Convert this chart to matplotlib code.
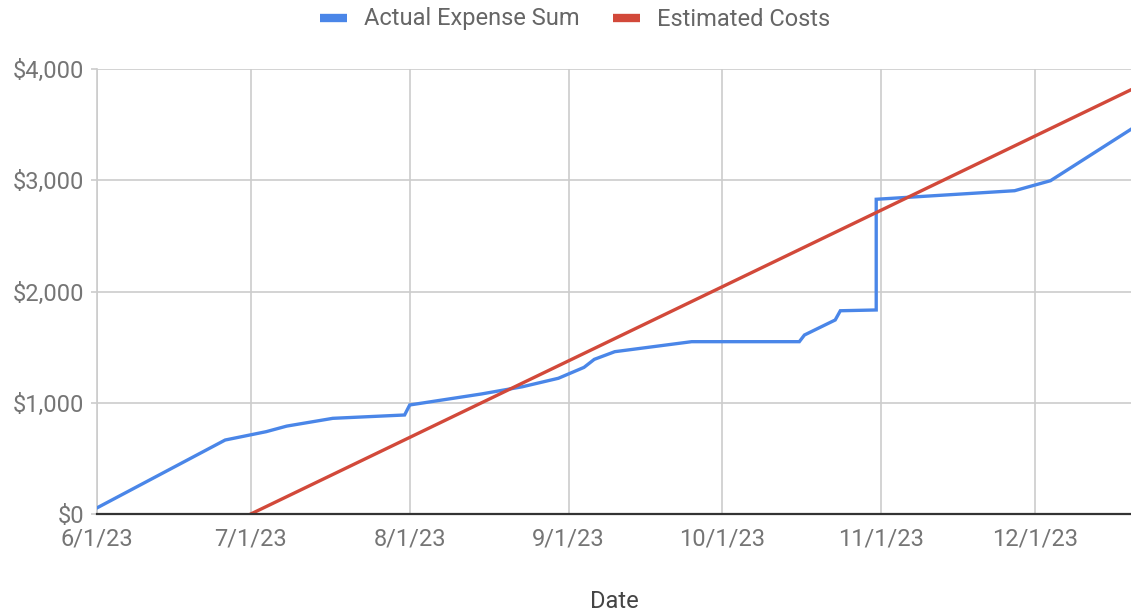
import matplotlib
matplotlib.use("Agg")
import matplotlib.pyplot as plt
import matplotlib.dates as mdates
from matplotlib.ticker import FuncFormatter, FixedLocator
import datetime as dt

plt.rcParams['font.family'] = ['Roboto', 'DejaVu Sans']

# ---- data ----
actual_dates = ["2023-06-01", "2023-06-26", "2023-07-04", "2023-07-08", "2023-07-17",
                "2023-07-31", "2023-08-01", "2023-08-15", "2023-08-23", "2023-08-30",
                "2023-09-04", "2023-09-06", "2023-09-10", "2023-09-25", "2023-10-16",
                "2023-10-17", "2023-10-23", "2023-10-24", "2023-10-31", "2023-10-31",
                "2023-11-27", "2023-12-04", "2023-12-20"]
actual_values = [55, 665, 740, 790, 860,
                 890, 980, 1079, 1144, 1220,
                 1318, 1390, 1459, 1549, 1549,
                 1609, 1744, 1827, 1834, 2829,
                 2906, 2996, 3467]
est_dates = ["2023-07-01", "2023-12-20"]
est_values = [0, 3820]
tick_dates = ["2023-06-01", "2023-07-01", "2023-08-01", "2023-09-01",
              "2023-10-01", "2023-11-01", "2023-12-01"]
y_ticks = [0, 1000, 2000, 3000, 4000]

def to_dt(s):
    return dt.datetime.strptime(s, "%Y-%m-%d")

ad = [to_dt(s) for s in actual_dates]
ed = [to_dt(s) for s in est_dates]
td = [mdates.date2num(to_dt(s)) for s in tick_dates]

FS = 17

fig = plt.figure(figsize=(11.31, 6.12), dpi=100)
ax = fig.add_axes([97/1131, 1 - 514/612, 1 - 97/1131, (514 - 69)/612])

blue = '#4a86e8'
red = '#d2493a'
ax.plot(ad, actual_values, color=blue, lw=2.4, label='Actual Expense Sum', zorder=3,
        solid_joinstyle='miter')
ax.plot(ed, est_values, color=red, lw=2.4, label='Estimated Costs', zorder=3)

ax.set_xlim(mdates.date2num(to_dt("2023-06-01")), mdates.date2num(to_dt("2023-06-01")) + 201.7)
ax.set_ylim(0, 4000)
ax.xaxis.set_major_locator(FixedLocator(td))
ax.xaxis.set_major_formatter(FuncFormatter(
    lambda v, p: (lambda d: f"{d.month}/{d.day}/{d:%y}")(mdates.num2date(v))))
ax.set_yticks(y_ticks)
ax.yaxis.set_major_formatter(FuncFormatter(lambda v, p: f"${int(v):,}"))

ax.grid(True, color='#cccccc', lw=1.2, zorder=0)
for s in ['top', 'right']:
    ax.spines[s].set_visible(False)
ax.spines['left'].set_color('#cccccc')
ax.spines['left'].set_linewidth(1.2)
ax.spines['bottom'].set_color('#333333')
ax.spines['bottom'].set_linewidth(1.6)
ax.spines['bottom'].set_zorder(4)

ax.tick_params(axis='y', length=4, color='#cccccc', width=1.2, labelsize=FS,
               labelcolor='#757575', pad=5)
ax.tick_params(axis='x', length=0, labelsize=FS, labelcolor='#757575', pad=9.5)

ax.set_xlabel('Date', fontsize=FS, color='#444444', labelpad=29)

leg = fig.legend(loc='center', bbox_to_anchor=(575/1131, 1 - 19/612), ncol=2,
                 frameon=False, fontsize=FS, handlelength=1.14, handleheight=0.5,
                 columnspacing=1.45, handletextpad=0.72)
for t in leg.get_texts():
    t.set_color('#666666')
for h in leg.legend_handles:
    h.set_linewidth(6)
    h.set_solid_capstyle('butt')

fig.savefig('out.png', dpi=100)
